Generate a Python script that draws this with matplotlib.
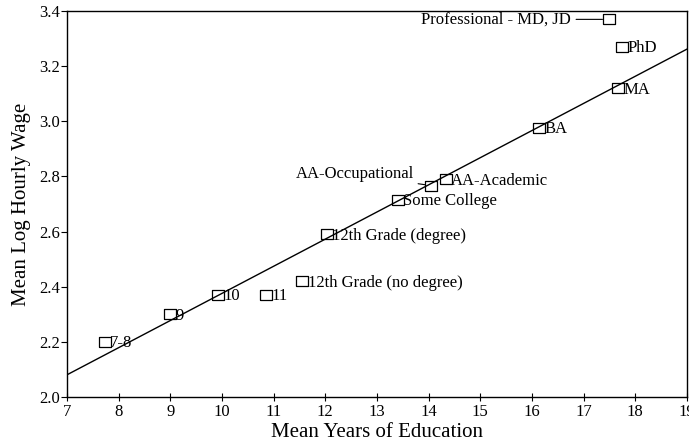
import matplotlib.pyplot as plt

plt.rcParams['font.family'] = ['Liberation Serif', 'DejaVu Serif']

# data
labels = ['7-8', '9', '10', '11', '12th Grade (no degree)', '12th Grade (degree)',
          'Some College', 'AA-Occupational', 'AA-Academic', 'BA', 'MA', 'PhD',
          'Professional - MD, JD']
years = [7.73, 8.99, 9.92, 10.85, 11.55, 12.03, 13.40, 14.04, 14.33, 16.13, 17.66, 17.75, 17.50]
wage = [2.20, 2.30, 2.37, 2.37, 2.42, 2.59, 2.716, 2.767, 2.79, 2.977, 3.12, 3.27, 3.37]

# fitted line end points
line_x = [7, 19]
line_y = [2.08, 3.262]

fig = plt.figure(figsize=(6.89, 4.44), dpi=100)
ax = fig.add_axes([0.097, 0.106, 0.9, 0.869])

ax.plot(line_x, line_y, color='black', lw=1)

rect = [(-1.3, -1), (1.3, -1), (1.3, 1), (-1.3, 1), (-1.3, -1)]
ax.plot(years, wage, linestyle='none', marker=rect, markersize=8.5,
        markerfacecolor='none', markeredgecolor='black', markeredgewidth=0.9)

# labels to the right of the marker, except the two with leader lines
for lab, x, y in zip(labels, years, wage):
    if lab == 'AA-Occupational':
        ax.annotate(lab, xy=(x, y), xytext=(-12, 8), textcoords='offset points',
                    ha='right', va='center', fontsize=12,
                    arrowprops=dict(arrowstyle='-', color='black', lw=0.8,
                                    shrinkA=1, shrinkB=4))
    elif lab == 'Professional - MD, JD':
        ax.annotate(lab, xy=(x, y), xytext=(-28, 0), textcoords='offset points',
                    ha='right', va='center', fontsize=12,
                    arrowprops=dict(arrowstyle='-', color='black', lw=0.8,
                                    shrinkA=2, shrinkB=5))
    else:
        ax.annotate(lab, xy=(x, y), xytext=(4, -1), textcoords='offset points',
                    ha='left', va='center', fontsize=12)

ax.set_xlim(7, 19)
ax.set_ylim(2.0, 3.4)
ax.set_xticks(range(7, 20))
ax.set_yticks([2.0, 2.2, 2.4, 2.6, 2.8, 3.0, 3.2, 3.4])
ax.set_yticklabels(['2.0', '2.2', '2.4', '2.6', '2.8', '3.0', '3.2', '3.4'])
ax.tick_params(axis='x', direction='inout', length=6, labelsize=12, pad=2)
ax.tick_params(axis='y', direction='out', length=4, labelsize=12, pad=1)
for s in ax.spines.values():
    s.set_linewidth(1)

ax.set_xlabel('Mean Years of Education', fontsize=15, labelpad=2)
ax.set_ylabel('Mean Log Hourly Wage', fontsize=15, labelpad=6)

fig.savefig('out.png', dpi=100)
